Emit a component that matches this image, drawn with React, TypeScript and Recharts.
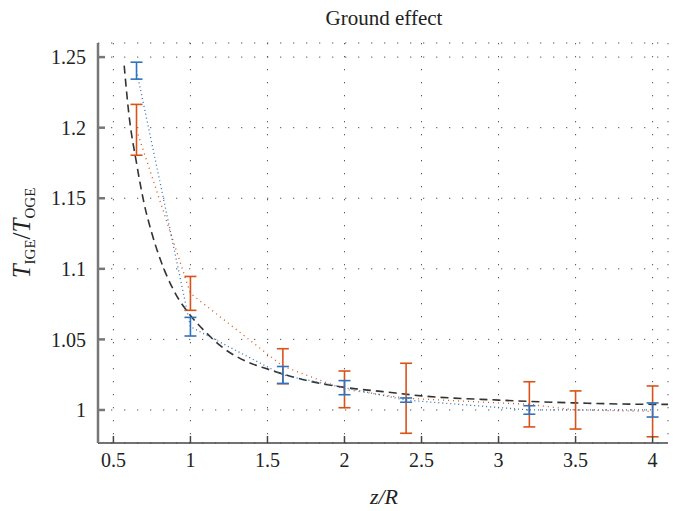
import { ComposedChart, Line, XAxis, YAxis, CartesianGrid, ErrorBar } from "recharts";

const serif = "'Liberation Serif', 'DejaVu Serif', serif";

// measured points (z/R) and thrust ratios
const blueX = [0.65, 1.0, 1.6, 2.0, 2.4, 3.2, 4.0];
const blueY = [1.2404, 1.059, 1.0248, 1.0158, 1.007, 1.0, 1.0];
const blueErr = [0.006, 0.0066, 0.006, 0.005, 0.0015, 0.003, 0.005];

const orangeX = [0.65, 1.0, 1.6, 2.0, 2.4, 3.2, 3.5, 4.0];
const orangeY = [1.1985, 1.0826, 1.031, 1.0146, 1.0083, 1.004, 1.0, 0.999];
const orangeErr = [0.018, 0.012, 0.0124, 0.013, 0.0248, 0.016, 0.0135, 0.018];

// dashed reference curve
const fitX = [0.57, 0.6, 0.65, 0.7, 0.75, 0.8, 0.9, 1.0, 1.1, 1.2, 1.35, 1.5, 1.75, 2.0, 2.25, 2.5, 3.0, 3.5, 4.0, 4.1];
const fitY = [1.244, 1.21, 1.175, 1.146, 1.125, 1.108, 1.083, 1.067, 1.055, 1.045, 1.035, 1.029, 1.021, 1.016, 1.013, 1.01, 1.007, 1.005, 1.004, 1.004];

const xTicks = [0.5, 1, 1.5, 2, 2.5, 3, 3.5, 4];
const yTicks = [1, 1.05, 1.1, 1.15, 1.2, 1.25];

const blueData = blueX.map((x, i) => ({ x, y: blueY[i], err: blueErr[i] }));
const orangeData = orangeX.map((x, i) => ({ x, y: orangeY[i], err: orangeErr[i] }));
const fitData = fitX.map((x, i) => ({ x, y: fitY[i] }));

const tickStyle = { fontSize: 20, fill: "#222", fontFamily: serif };

const YLabel = () => (
  <text x={30} y={233} transform="rotate(-90 30 233)" textAnchor="middle" fontFamily={serif} fontSize={25} fill="#222">
    <tspan fontStyle="italic">T</tspan>
    <tspan fontSize={15} dy={5}>IGE</tspan>
    <tspan dy={-5}>/</tspan>
    <tspan fontStyle="italic">T</tspan>
    <tspan fontSize={15} dy={5}>OGE</tspan>
  </text>
);

const XLabel = () => (
  <text x={384} y={504} textAnchor="middle" fontFamily={serif} fontSize={22} fontStyle="italic" fill="#222">
    z/R
  </text>
);

export default function App() {
  return (
    <div style={{ position: "absolute", left: 0, top: 0, width: 673, height: 511, background: "#fff" }}>
      <div
        style={{
          position: "absolute", left: 98, width: 572, top: 6, textAlign: "center",
          fontFamily: serif, fontSize: 21, color: "#222",
        }}
      >
        Ground effect
      </div>
      <ComposedChart width={673} height={511} margin={{ top: 43, right: 5, bottom: 8, left: 8 }}>
        <CartesianGrid stroke="#555" strokeDasharray="1.3 11.7" strokeWidth={1} vertical horizontal />
        <XAxis
          type="number"
          dataKey="x"
          domain={[0.4, 4.1]}
          ticks={xTicks}
          allowDataOverflow
          height={60}
          tickSize={-7}
          tickMargin={17}
          tick={tickStyle}
          stroke="#444"
          strokeWidth={1.5}
          label={{ content: () => <XLabel /> }}
        />
        <YAxis
          type="number"
          domain={[0.9766, 1.26]}
          ticks={yTicks}
          allowDataOverflow
          width={90}
          tickSize={-7}
          tickMargin={19}
          tick={tickStyle}
          stroke="#777"
          strokeWidth={2.5}
          label={{ content: () => <YLabel /> }}
        />
        <Line
          data={fitData}
          dataKey="y"
          type="monotone"
          stroke="#333"
          strokeWidth={1.6}
          strokeDasharray="8 5"
          dot={false}
          isAnimationActive={false}
        />
        <Line
          data={orangeData}
          dataKey="y"
          type="linear"
          stroke="#D95319"
          strokeWidth={1.3}
          strokeDasharray="1 4"
          dot={false}
          isAnimationActive={false}
        >
          <ErrorBar dataKey="err" direction="y" width={6} stroke="#D95319" strokeWidth={1.6} isAnimationActive={false} />
        </Line>
        <Line
          data={blueData}
          dataKey="y"
          type="linear"
          stroke="#2F72BD"
          strokeWidth={1.3}
          strokeDasharray="1 3"
          dot={false}
          isAnimationActive={false}
        >
          <ErrorBar dataKey="err" direction="y" width={6} stroke="#2F72BD" strokeWidth={1.6} isAnimationActive={false} />
        </Line>
      </ComposedChart>
    </div>
  );
}
